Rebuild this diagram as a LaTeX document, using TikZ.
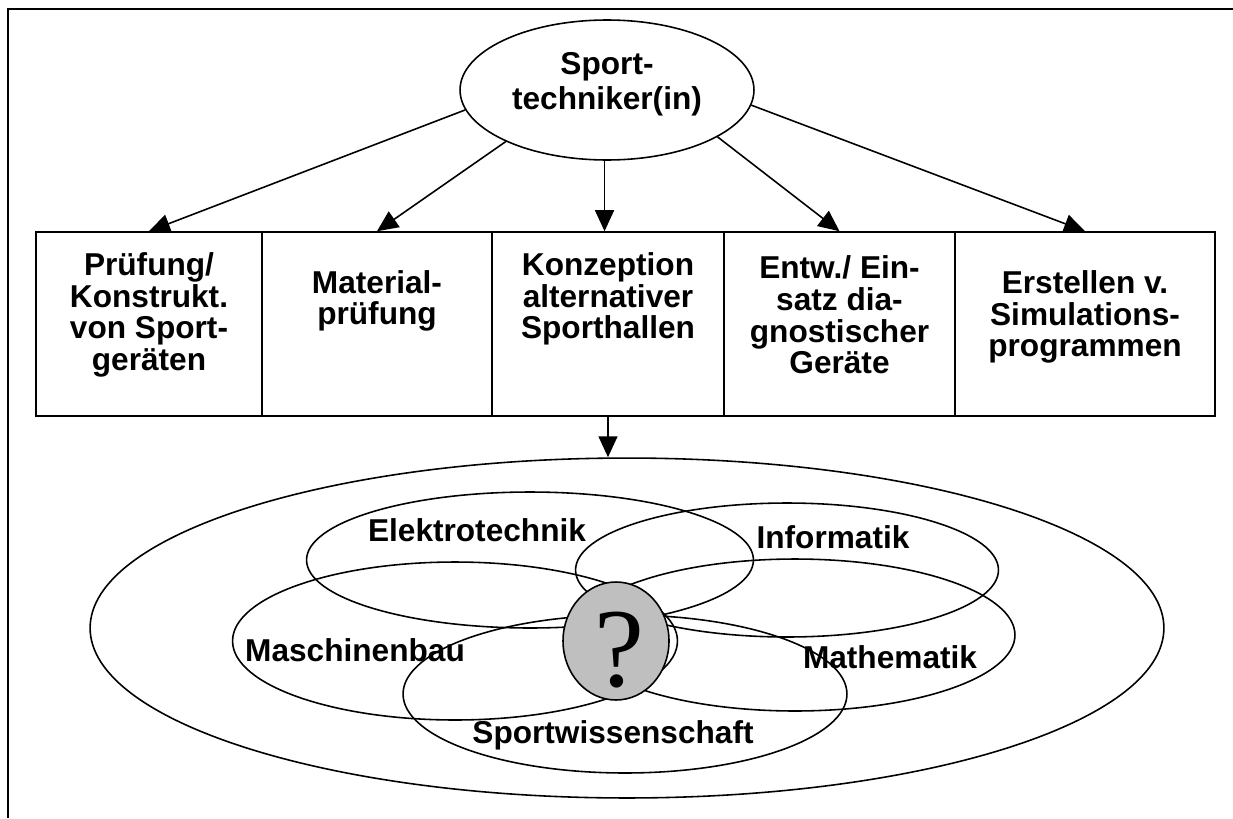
\documentclass[tikz,border=0pt]{standalone}
\usepackage{fontspec}
\setmainfont{Liberation Sans}
\usepackage{tikz}
\usetikzlibrary{shapes.geometric, arrows.meta, positioning, calc}

\begin{document}
\begin{tikzpicture}[x=0.02cm, y=-0.02cm, line width=0.9pt]

\tikzstyle{elli}=[ellipse, draw=black, inner sep=0pt]
\tikzstyle{area}=[draw=black, minimum height=3.68cm, inner sep=0pt]
\tikzstyle{txt}=[align=center, font=\fontsize{18}{18}\selectfont\bfseries, inner sep=0pt]
\tikzstyle{arr}=[-{Triangle[length=0.42cm, width=0.38cm]}]

\useasboundingbox (0,0) rectangle (1233,818);

% frame (only top and left edge visible)
\coordinate (fbl) at (8,818);
\coordinate (ftl) at (8,9);
\coordinate (ftr) at (1233,9);
\draw [line width=1.3pt] (fbl) -- (ftl) -- (ftr);

% top
\node (top) at (607,90) [elli, minimum width=5.88cm, minimum height=2.8cm] {};
\node (ttop) at (607,84) [txt, font=\fontsize{18}{20}\selectfont\bfseries] {Sport-\\techniker(in)};

% row of fields
\node (b1) at (149,324) [area, minimum width=4.52cm] {};
\node (b2) at (377,324) [area, minimum width=4.6cm] {};
\node (b3) at (608,324) [area, minimum width=4.64cm] {};
\node (b4) at (839.5,324) [area, minimum width=4.62cm] {};
\node (b5) at (1085,324) [area, minimum width=5.2cm] {};

\node (tb1) at (149,315) [txt] {Prüfung/\\Konstrukt.\\von Sport-\\geräten};
\node (tb2) at (377,301) [txt] {Material-\\prüfung};
\node (tb3) at (608,299) [txt] {Konzeption\\alternativer\\Sporthallen};
\node (tb4) at (839.5,315) [txt] {Entw./ Ein-\\satz dia-\\gnostischer\\Geräte};
\node (tb5) at (1085,317) [txt] {Erstellen v.\\Simulations-\\programmen};

\draw [arr] (top.188) -- (b1.north);
\draw [arr] (top.207) -- (b2.north);
\draw [arr] (top.268) -- (top.268 |- b3.north);
\draw [arr] (top.337) -- (b4.north);
\draw [arr] (top.354) -- (b5.north);

% disciplines
\node (outer) at (627,628) [elli, minimum width=21.48cm, minimum height=6.8cm] {};
\draw [arr] (b3.south) -- (b3.south |- outer.north);

\node (etech) at (530,560) [elli, minimum width=8.94cm, minimum height=2.72cm] {};
\node (info) at (787,570) [elli, minimum width=8.46cm, minimum height=2.68cm] {};
\node (mbau) at (455,641) [elli, minimum width=8.9cm, minimum height=3.16cm] {};
\node (mathe) at (795,635) [elli, minimum width=8.8cm, minimum height=3.04cm] {};
\node (swiss) at (625,694) [elli, minimum width=8.88cm, minimum height=3.16cm] {};

\node (letech) at (477,530) [txt] {Elektrotechnik};
\node (linfo) at (833,537) [txt] {Informatik};
\node (lmbau) at (355,650) [txt] {Maschinenbau};
\node (lmathe) at (890,657) [txt] {Mathematik};
\node (lswiss) at (613,735) [txt] {Sportwissenschaft};

\node (quest) at (616,641) [elli, fill=black!25, minimum width=2.12cm, minimum height=2.36cm] {};
\node (qmark) at (619,650) [inner sep=0pt, font=\fontspec{Liberation Serif}\fontsize{64}{64}\selectfont] {?};

\end{tikzpicture}
\end{document}
